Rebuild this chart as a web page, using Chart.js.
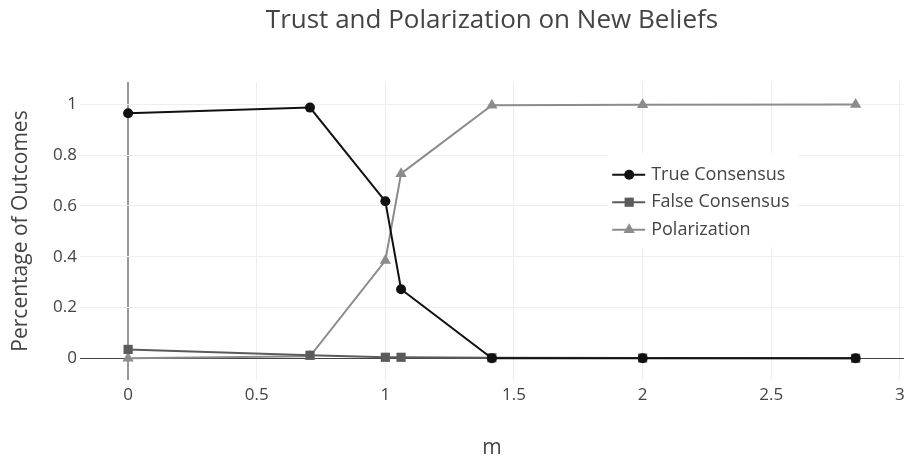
<!DOCTYPE html>
<html>
<head>
<meta charset="utf-8">
<script src="https://cdn.jsdelivr.net/npm/chart.js@4.4.0/dist/chart.umd.min.js"></script>
<style>
  html, body { margin: 0; padding: 0; background: #fff; overflow: hidden; }
  canvas { display: block; }
</style>
</head>
<body>
<canvas id="myChart" width="904" height="457"></canvas>
<script>
// data
const mValues = [0, 0.707, 1, 1.061, 1.414, 2, 2.828];
const trueConsensus = [0.965, 0.987, 0.618, 0.272, 0.0, 0.0, 0.0];
const falseConsensus = [0.035, 0.012, 0.004, 0.004, 0.002, 0.001, 0.0];
const polarization = [0.0, 0.008, 0.385, 0.727, 0.996, 0.998, 0.999];
const seriesNames = ["True Consensus", "False Consensus", "Polarization"];
const seriesColors = ["#111111", "#5b5b5b", "#8c8c8c"];
const seriesMarkers = ["circle", "rect", "triangle"];
const xTicks = [0, 0.5, 1, 1.5, 2, 2.5, 3];
const yTicks = [0, 0.2, 0.4, 0.6, 0.8, 1];

const FONT = "'Open Sans', 'Noto Sans', sans-serif";
const TEXT = "#444";

const toPoints = (ys) => mValues.map((x, i) => ({ x: x, y: ys[i] }));
const allSeries = [trueConsensus, falseConsensus, polarization];
const markerRadius = [5, 6.5, 6.5];

const datasets = allSeries.map((ys, i) => ({
  label: seriesNames[i],
  data: toPoints(ys),
  borderColor: seriesColors[i],
  backgroundColor: seriesColors[i],
  borderWidth: 2,
  pointStyle: seriesMarkers[i],
  pointRadius: markerRadius[i],
  pointBorderWidth: 0,
  tension: 0,
}));

// legend drawn inside the plot, plotly style
const boxLegend = {
  id: "boxLegend",
  afterDraw(chart) {
    const { ctx, chartArea } = chart;
    const w = chartArea.right - chartArea.left;
    const h = chartArea.bottom - chartArea.top;
    const bx = chartArea.left + w * 0.641;
    const by = chartArea.top + h * 0.239;
    ctx.save();
    ctx.fillStyle = "#fff";
    ctx.fillRect(bx, by, 190, 94);
    ctx.font = "18px " + FONT;
    ctx.textBaseline = "middle";
    ctx.textAlign = "left";
    seriesNames.forEach((name, i) => {
      const y = by + 21.5 + i * 27.5;
      ctx.strokeStyle = seriesColors[i];
      ctx.lineWidth = 2;
      ctx.beginPath();
      ctx.moveTo(bx + 4, y);
      ctx.lineTo(bx + 37, y);
      ctx.stroke();
      ctx.fillStyle = seriesColors[i];
      Chart.helpers.drawPoint(ctx, {
        pointStyle: seriesMarkers[i],
        radius: markerRadius[i],
        rotation: 0,
        borderWidth: 0,
      }, bx + 21, y);
      ctx.fillStyle = TEXT;
      ctx.fillText(name, bx + 43, y);
    });
    ctx.restore();
  },
};

const ctx = document.getElementById("myChart").getContext("2d");

new Chart(ctx, {
  type: "line",
  data: { datasets: datasets },
  plugins: [boxLegend],
  options: {
    responsive: false,
    animation: false,
    layout: { padding: 0, autoPadding: false },
    plugins: {
      legend: { display: false },
      tooltip: { enabled: false },
      title: {
        display: true,
        fullSize: false,
        text: "Trust and Polarization on New Beliefs",
        color: TEXT,
        font: { family: FONT, size: 26, weight: "normal" },
        padding: { top: 5, bottom: 45.8 },
      },
    },
    scales: {
      x: {
        type: "linear",
        min: -0.187,
        max: 3.016,
        afterBuildTicks: (s) => { s.ticks = xTicks.map((v) => ({ value: v })); },
        afterFit: (s) => { s.height = 77; s.paddingLeft = 0; s.paddingRight = 0; },
        border: { display: false },
        grid: {
          drawTicks: false,
          color: (c) => (c.tick && c.tick.value === 0 ? "#999" : "#eeeeee"),
          lineWidth: (c) => (c.tick && c.tick.value === 0 ? 2 : 1),
        },
        ticks: {
          padding: 5,
          color: TEXT,
          maxRotation: 0,
          font: { family: FONT, size: 17 },
          callback: (v) => String(v),
        },
        title: {
          display: true,
          text: "m",
          color: TEXT,
          font: { family: FONT, size: 21 },
          padding: { top: 0, bottom: -4 },
        },
      },
      y: {
        min: -0.0854,
        max: 1.0878,
        afterBuildTicks: (s) => { s.ticks = yTicks.map((v) => ({ value: v })); },
        afterFit: (s) => { s.width = 80; s.paddingTop = 0; s.paddingBottom = 0; },
        border: { display: false },
        grid: {
          drawTicks: false,
          color: (c) => (c.tick && c.tick.value === 0 ? "#444" : "#eeeeee"),
          lineWidth: 1,
        },
        ticks: {
          padding: 3,
          color: TEXT,
          font: { family: FONT, size: 17 },
          callback: (v) => String(v),
        },
        title: {
          display: true,
          text: "Percentage of Outcomes",
          color: TEXT,
          font: { family: FONT, size: 21 },
          padding: { top: 8, bottom: 0 },
        },
      },
    },
  },
});
</script>
</body>
</html>
